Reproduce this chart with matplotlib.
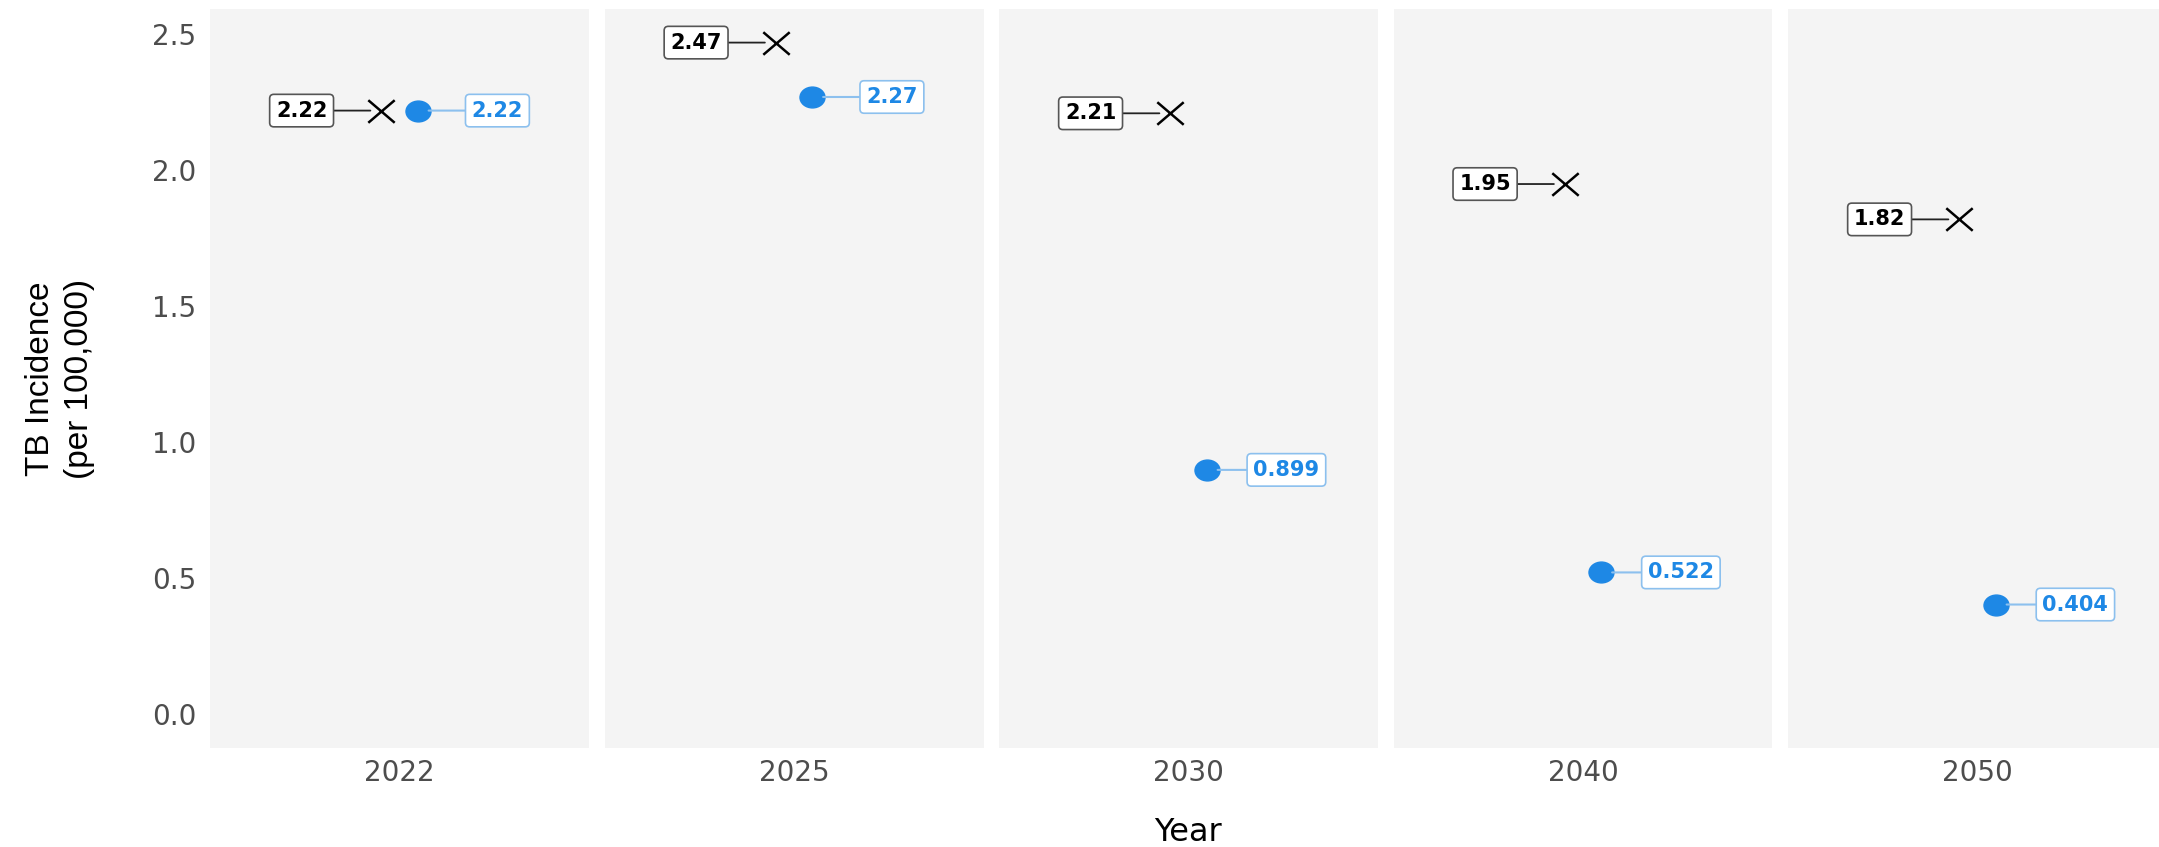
import numpy as np
import matplotlib
matplotlib.use('Agg')
import matplotlib.pyplot as plt
from matplotlib.path import Path

# DATA

years = ['2022', '2025', '2030', '2040', '2050']
baseline = [2.22, 2.47, 2.21, 1.95, 1.82]       # black crosses
target = [2.22, 2.27, 0.899, 0.522, 0.404]      # blue dots
yticks = [0.0, 0.5, 1.0, 1.5, 2.0, 2.5]

# LAYOUT (pixels)

W, H = 2159, 847
panel_left = [210, 604.5, 999, 1393.5, 1788]
panel_w = 379
top, bottom = 9, 748

blue = '#1E88E5'
blue_light = '#8CC0EE'

# the reference is a bit stretched sideways, so markers are a bit wider than tall
circle = Path.unit_circle()
dot = Path(circle.vertices * [1.2, 1.0], circle.codes)
cross = Path([(-1.17, -1), (1.17, 1), (-1.17, 1), (1.17, -1)],
             [Path.MOVETO, Path.LINETO, Path.MOVETO, Path.LINETO])

dx = 0.057      # dodge
nudge = 0.253   # label offset

fig = plt.figure(figsize=(W / 100, H / 100), dpi=100)

for i, year in enumerate(years):
    ax = fig.add_axes([panel_left[i] / W, (H - bottom) / H, panel_w / W, (bottom - top) / H])
    ax.set_facecolor('#F4F4F4')
    ax.set_xlim(0.4, 1.6)
    ax.set_ylim(-0.1235, 2.5935)
    for s in ax.spines.values():
        s.set_visible(False)

    # baseline point + label
    ax.plot(1 - dx, baseline[i], ls='none', marker=cross, ms=19, mec='black', mew=1.8, mfc='none', zorder=3)
    ax.annotate(f'{baseline[i]:.3g}', xy=(1 - dx, baseline[i]), xytext=(1 - dx - nudge, baseline[i]),
                ha='center', va='center', fontsize=15, fontweight='bold', color='black',
                bbox=dict(boxstyle='round,pad=0.3,rounding_size=0.2', fc='white', ec='#555555', lw=1.2),
                arrowprops=dict(arrowstyle='-', color='#222222', lw=1.3, shrinkA=0, shrinkB=8))

    # target point + label
    ax.plot(1 + dx, target[i], ls='none', marker=dot, ms=18, color=blue, zorder=3)
    ax.annotate(f'{target[i]:.3g}', xy=(1 + dx, target[i]), xytext=(1 + dx + nudge, target[i]),
                ha='center', va='center', fontsize=15, fontweight='bold', color=blue,
                bbox=dict(boxstyle='round,pad=0.3,rounding_size=0.2', fc='white', ec=blue_light, lw=1.2),
                arrowprops=dict(arrowstyle='-', color=blue_light, lw=1.5, shrinkA=0, shrinkB=8))

    ax.set_xticks([1])
    ax.set_xticklabels([year], fontsize=20, color='#4D4D4D')
    ax.set_yticks(yticks)
    if i == 0:
        ax.set_yticklabels([f'{v:.1f}' for v in yticks], fontsize=20, color='#4D4D4D')
    else:
        ax.set_yticklabels([])
    ax.tick_params(axis='x', length=0, pad=8)
    ax.tick_params(axis='y', length=0, pad=10)

fig.text(1188 / W, 1 - 832 / H, 'Year', ha='center', va='center', fontsize=23, color='black')
fig.text(60 / W, 1 - 379 / H, 'TB Incidence\n(per 100,000)', rotation=90, ha='center', va='center',
         multialignment='center', fontsize=24, linespacing=1.35, color='black',
         family=['Liberation Sans Narrow', 'Liberation Sans', 'DejaVu Sans'])

fig.savefig('out.png', dpi=100)
